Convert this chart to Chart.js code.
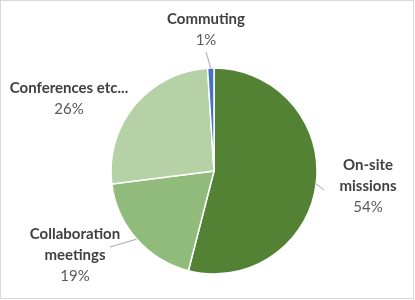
<!DOCTYPE html>
<html>
<head>
<meta charset="utf-8">
<script src="https://cdn.jsdelivr.net/npm/chart.js@4"></script>
<style>
  html, body { margin: 0; padding: 0; background: #fff; }
  #wrap { width: 415px; height: 300px; }
</style>
</head>
<body>
<div id="wrap"><canvas id="pie" width="415" height="300"></canvas></div>
<script>
// data (percent of total), in drawing order from 12 o'clock
const categories = ['On-site missions', 'Collaboration meetings', 'Conferences etc...', 'Commuting'];
const shares = [54, 19, 26, 1];
const sliceColors = ['#548235', '#90BB7A', '#B4D2A5', '#4472C4'];

// where each label sits (text lines, centre x, first line y) and where its leader line ends
const labelLayout = [
  { lines: ['On-site', 'missions'], x: 368, y: 165, lead: [324, 190] },
  { lines: ['Collaboration', 'meetings'], x: 75, y: 234, lead: [110, 247] },
  { lines: ['Conferences etc...'], x: 69, y: 88, lead: null },
  { lines: ['Commuting'], x: 206, y: 19, lead: [206, 52] }
];

const labelPlugin = {
  id: 'sliceLabels',
  beforeDraw(chart) {
    const ctx = chart.ctx;
    ctx.save();
    ctx.fillStyle = '#fff';
    ctx.fillRect(0, 0, chart.width, chart.height);
    ctx.strokeStyle = '#D9D9D9';
    ctx.lineWidth = 1;
    ctx.strokeRect(0.5, 0.5, 413, 298);
    ctx.restore();
  },
  afterDraw(chart) {
    const ctx = chart.ctx;
    const arcs = chart.getDatasetMeta(0).data;
    const total = shares.reduce((a, b) => a + b, 0);
    ctx.save();
    arcs.forEach((arc, i) => {
      const lay = labelLayout[i];
      const mid = (arc.startAngle + arc.endAngle) / 2;
      if (lay.lead) {
        ctx.strokeStyle = '#A6A6A6';
        ctx.lineWidth = 1;
        ctx.beginPath();
        ctx.moveTo(arc.x + Math.cos(mid) * arc.outerRadius, arc.y + Math.sin(mid) * arc.outerRadius);
        ctx.lineTo(lay.lead[0], lay.lead[1]);
        ctx.stroke();
      }
      ctx.textAlign = 'center';
      ctx.textBaseline = 'middle';
      ctx.fillStyle = '#404040';
      ctx.font = 'bold 15px Lato';
      let y = lay.y;
      lay.lines.forEach(line => {
        ctx.fillText(line, lay.x, y);
        y += 21;
      });
      ctx.font = '15px Lato';
      ctx.fillStyle = '#595959';
      ctx.fillText(Math.round(shares[i] / total * 100) + '%', lay.x, y);
    });
    ctx.restore();
  }
};

new Chart(document.getElementById('pie'), {
  type: 'pie',
  data: {
    labels: categories,
    datasets: [{
      data: shares,
      backgroundColor: sliceColors,
      borderColor: '#ffffff',
      borderWidth: 1.5
    }]
  },
  options: {
    responsive: false,
    animation: false,
    events: [],
    radius: 103,
    layout: { padding: { left: 60, right: 47, top: 68, bottom: 26 } },
    plugins: {
      legend: { display: false },
      tooltip: { enabled: false }
    }
  },
  plugins: [labelPlugin]
});
</script>
</body>
</html>
